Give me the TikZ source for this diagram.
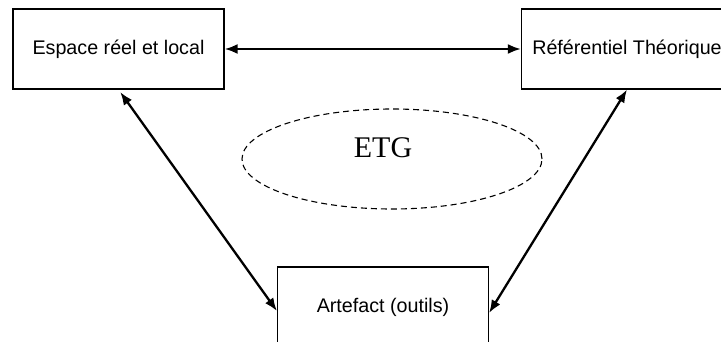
\documentclass[tikz,border=0pt]{standalone}
\usepackage{fontspec}
\setmainfont{Liberation Serif}
\setsansfont{Liberation Sans}
\usepackage{tikz}
\usetikzlibrary{calc,shapes.geometric,arrows.meta}

\begin{document}
\begin{tikzpicture}[x=1pt, y=-1pt,
    box/.style={draw, line width=1.2pt, minimum width=211pt, minimum height=80pt,
        inner sep=2pt, font=\sffamily\fontsize{19.7}{24}\selectfont},
    link/.style={{Latex[length=13pt,width=10pt]}-{Latex[length=13pt,width=10pt]}, line width=2.3pt}
    ]

    \useasboundingbox (0,0) rectangle (721,342);

    \node[box] (esp) at (118.5,49) {Espace réel et local};
    \node[box] (ref) at (627,49) {Référentiel Théorique};
    \node[box] (art) at (383,307) {Artefact (outils)};

    % ETG in the middle
    \node[ellipse, draw, dashed, line width=1.1pt, dash pattern=on 6pt off 4pt,
        minimum width=300pt, minimum height=100pt] (etg) at (392,159) {};
    \node[font=\fontsize{30}{36}\selectfont] (etgtxt) at (383,148) {ETG};

    % links between the three poles
    \draw[link] (esp.east) -- (ref.west);
    \draw[link, shorten <=3pt] (esp.south) -- ([yshift=-4pt]art.west);
    \draw[link] (ref.south) -- ([yshift=-6pt]art.east);

\end{tikzpicture}
\end{document}
